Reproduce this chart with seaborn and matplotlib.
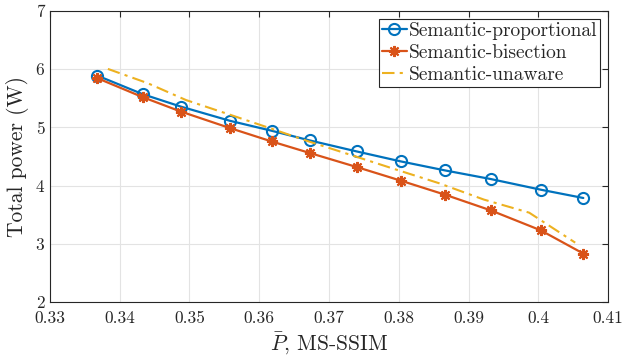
import numpy as np
import pandas as pd
import matplotlib
matplotlib.use("Agg")
import matplotlib.pyplot as plt
import seaborn as sns

# ---- data ----
x_prop = [0.33678, 0.34329, 0.34874, 0.35581, 0.36179, 0.36728, 0.37397, 0.38032, 0.38663, 0.39318, 0.40035, 0.40646]
y_prop = [5.890, 5.571, 5.358, 5.113, 4.942, 4.775, 4.587, 4.415, 4.261, 4.113, 3.930, 3.787]

x_bis = [0.33678, 0.34329, 0.34874, 0.35581, 0.36179, 0.36728, 0.37397, 0.38032, 0.38663, 0.39318, 0.40035, 0.40646]
y_bis = [5.846, 5.520, 5.273, 4.988, 4.758, 4.559, 4.319, 4.084, 3.844, 3.575, 3.232, 2.832]

x_unaw = [0.3383, 0.3440, 0.3495, 0.3560, 0.3617, 0.3668, 0.3733, 0.3795, 0.3858, 0.3922, 0.3987, 0.4053]
y_unaw = [6.005, 5.76, 5.47, 5.21, 4.98, 4.77, 4.52, 4.28, 4.04, 3.76, 3.535, 3.02]

labels = ["Semantic-proportional", "Semantic-bisection", "Semantic-unaware"]
xticks = [0.33, 0.34, 0.35, 0.36, 0.37, 0.38, 0.39, 0.40, 0.41]
xtick_labels = ["0.33", "0.34", "0.35", "0.36", "0.37", "0.38", "0.39", "0.4", "0.41"]
yticks = [2, 3, 4, 5, 6, 7]

sns.set_style("white")
plt.rcParams["font.family"] = ["cmr10", "DejaVu Serif"]
plt.rcParams["mathtext.fontset"] = "cm"
plt.rcParams["axes.formatter.use_mathtext"] = True

fig = plt.figure(figsize=(6.27, 3.63), dpi=100)
ax = fig.add_axes([50/627, 1 - 302/363, (608 - 50)/627, (302 - 11)/363])

c_blue = "#0072BD"
c_red = "#D95319"
c_yel = "#EDB120"

df_p = pd.DataFrame({"x": x_prop, "y": y_prop})
df_b = pd.DataFrame({"x": x_bis, "y": y_bis})
df_u = pd.DataFrame({"x": x_unaw, "y": y_unaw})

sns.lineplot(data=df_p, x="x", y="y", ax=ax, color=c_blue, lw=1.6, marker="o",
             markersize=8, markerfacecolor="none", markeredgecolor=c_blue,
             markeredgewidth=1.5, sort=False, estimator=None, label=labels[0])
sns.lineplot(data=df_b, x="x", y="y", ax=ax, color=c_red, lw=1.6, marker=(8, 2, 0),
             markersize=8, markeredgecolor=c_red, markeredgewidth=1.5,
             sort=False, estimator=None, label=labels[1])
sns.lineplot(data=df_u, x="x", y="y", ax=ax, color=c_yel, lw=1.5,
             linestyle=(0, (6, 2.5, 1.5, 2.5)), sort=False, estimator=None,
             label=labels[2])

ax.set_xlim(0.33, 0.41)
ax.set_ylim(2, 7)
ax.set_xticks(xticks)
ax.set_xticklabels(xtick_labels)
ax.set_yticks(yticks)
ax.set_yticklabels([str(t) for t in yticks])

ax.grid(True, color="#e3e3e3", lw=0.8)
ax.set_axisbelow(True)
for s in ax.spines.values():
    s.set_color("#262626")
    s.set_linewidth(0.8)
    s.set_visible(True)
ax.tick_params(direction="in", length=4, width=0.8, color="#262626",
               top=True, right=True, labelsize=12.5, labelcolor="#262626")
ax.tick_params(axis="x", pad=6.5)
ax.tick_params(axis="y", pad=4)

ax.set_xlabel(r"$\bar{P}$, MS-SSIM", fontsize=15.5, color="#262626", labelpad=3)
ax.set_ylabel("Total power (W)", fontsize=15.5, color="#262626", labelpad=5)

leg = ax.legend(loc="upper right", fontsize=14, frameon=True, fancybox=False,
                edgecolor="#262626", framealpha=1, borderpad=0.15, labelspacing=0.22,
                handlelength=1.3, handletextpad=0.1, borderaxespad=0.4)
leg.get_frame().set_linewidth(0.8)
for t in leg.get_texts():
    t.set_color("#262626")

fig.savefig("out.png", dpi=100)
